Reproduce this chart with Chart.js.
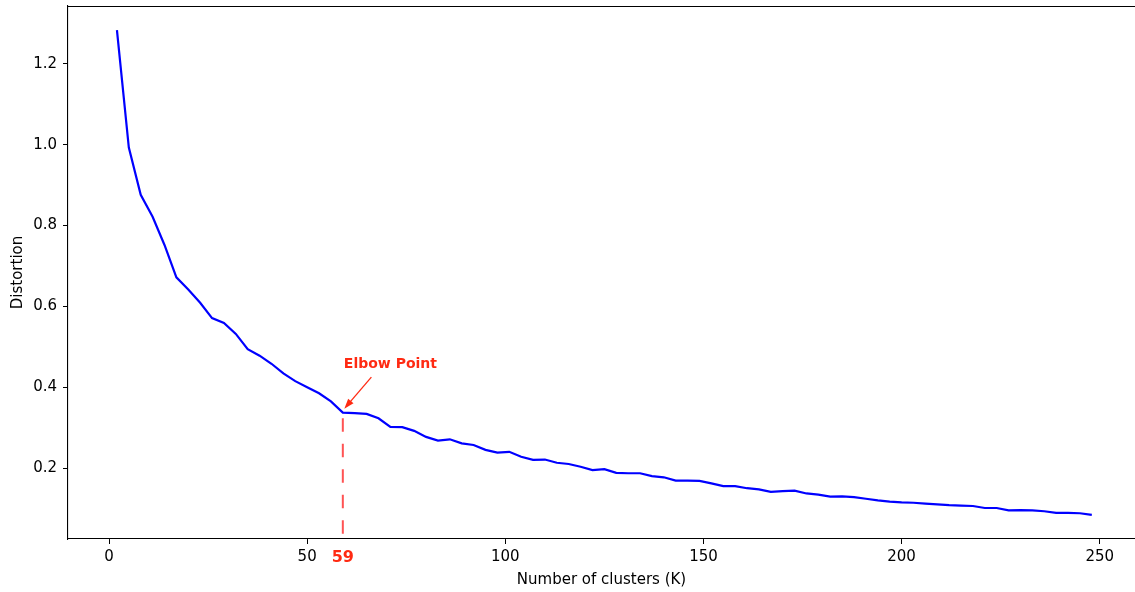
<!DOCTYPE html>
<html lang="fr">
<head>
<meta charset="utf-8">
<title>Méthode du coude</title>
<script src="https://cdn.jsdelivr.net/npm/chart.js@4/dist/chart.umd.min.js"></script>
<style>
  html, body { margin: 0; padding: 0; background: #fff; }
  #wrap { width: 1135px; height: 592px; }
</style>
</head>
<body>
<div id="wrap"><canvas id="elbowChart" width="1135" height="592"></canvas></div>
<script>
// Nombre de clusters testés
const kValues = [
  2, 5, 8, 11, 14, 17, 20, 23, 26, 29, 32, 35, 38, 41, 44, 47, 50, 53, 56, 59,
  62, 65, 68, 71, 74, 77, 80, 83, 86, 89, 92, 95, 98, 101, 104, 107, 110, 113, 116, 119,
  122, 125, 128, 131, 134, 137, 140, 143, 146, 149, 152, 155, 158, 161, 164, 167, 170, 173, 176, 179,
  182, 185, 188, 191, 194, 197, 200, 203, 206, 209, 212, 215, 218, 221, 224, 227, 230, 233, 236, 239,
  242, 245, 248
];

// Distorsion moyenne pour chaque K
const distortion = [
  1.284, 0.993, 0.876, 0.822, 0.752, 0.672, 0.642, 0.609, 0.571, 0.559, 0.532, 0.494, 0.478, 0.458, 0.434, 0.415, 0.400, 0.385, 0.365, 0.337,
  0.336, 0.334, 0.323, 0.302, 0.301, 0.292, 0.277, 0.268, 0.271, 0.261, 0.257, 0.245, 0.238, 0.240, 0.228, 0.220, 0.221, 0.213, 0.210, 0.203,
  0.195, 0.197, 0.188, 0.187, 0.187, 0.180, 0.177, 0.169, 0.169, 0.168, 0.162, 0.155, 0.155, 0.150, 0.147, 0.141, 0.143, 0.144, 0.137, 0.134,
  0.129, 0.130, 0.128, 0.124, 0.120, 0.117, 0.115, 0.114, 0.112, 0.110, 0.108, 0.107, 0.106, 0.101, 0.101, 0.095, 0.096, 0.095, 0.093, 0.089,
  0.089, 0.088, 0.084
];

// Graduations des axes
const xTicks = [0, 50, 100, 150, 200, 250];
const yTicks = [0.2, 0.4, 0.6, 0.8, 1.0, 1.2];

// Point du coude
const elbowK = 59;
const elbowLabel = "Elbow Point";

const FONT = "'DejaVu Sans', sans-serif";
const RED = "#ff2a12";

// Ligne pointillée, flèche et texte du coude
const elbowPlugin = {
  id: "elbow",
  afterDatasetsDraw(chart) {
    const ctx = chart.ctx;
    const xs = chart.scales.x;
    const ys = chart.scales.y;
    const area = chart.chartArea;
    const idx = kValues.indexOf(elbowK);
    const px = xs.getPixelForValue(elbowK);
    const py = ys.getPixelForValue(distortion[idx]);

    ctx.save();
    // pointillé vertical jusqu'à l'axe
    ctx.strokeStyle = "rgba(255, 40, 40, 0.8)";
    ctx.lineWidth = 2;
    ctx.setLineDash([13.5, 12]);
    ctx.lineDashOffset = 20;
    ctx.beginPath();
    ctx.moveTo(px, py);
    ctx.lineTo(px, area.bottom);
    ctx.stroke();
    ctx.setLineDash([]);

    // flèche
    const tx = xs.getPixelForValue(elbowK + 7.2);
    const ty = ys.getPixelForValue(0.425);
    const hx = px + 1.5;
    const hy = py - 4;
    const ang = Math.atan2(hy - ty, hx - tx);
    ctx.strokeStyle = RED;
    ctx.fillStyle = RED;
    ctx.lineWidth = 1.3;
    ctx.beginPath();
    ctx.moveTo(tx, ty);
    ctx.lineTo(hx - 8 * Math.cos(ang), hy - 8 * Math.sin(ang));
    ctx.stroke();
    ctx.beginPath();
    ctx.moveTo(hx, hy);
    ctx.lineTo(hx - 10 * Math.cos(ang) + 3.5 * Math.sin(ang), hy - 10 * Math.sin(ang) - 3.5 * Math.cos(ang));
    ctx.lineTo(hx - 10 * Math.cos(ang) - 3.5 * Math.sin(ang), hy - 10 * Math.sin(ang) + 3.5 * Math.cos(ang));
    ctx.closePath();
    ctx.fill();

    // texte
    ctx.font = "bold 14px " + FONT;
    ctx.textAlign = "left";
    ctx.textBaseline = "middle";
    ctx.fillText(elbowLabel, px + 1, ys.getPixelForValue(0.457));
    ctx.restore();
  },
  afterDraw(chart) {
    // bordure du haut
    const ctx = chart.ctx;
    const area = chart.chartArea;
    ctx.save();
    ctx.strokeStyle = "#000";
    ctx.lineWidth = 1.1;
    ctx.beginPath();
    ctx.moveTo(area.left, area.top + 0.5);
    ctx.lineTo(area.right, area.top + 0.5);
    ctx.stroke();
    ctx.restore();
  }
};

const ctx = document.getElementById("elbowChart").getContext("2d");
const elbowChart = new Chart(ctx, {
  type: "line",
  data: {
    datasets: [{
      label: "Distortion",
      data: kValues.map((k, i) => ({ x: k, y: distortion[i] })),
      borderColor: "#0000ff",
      borderWidth: 2.2,
      pointRadius: 0,
      tension: 0,
      fill: false
    }]
  },
  options: {
    responsive: false,
    animation: false,
    devicePixelRatio: 1,
    layout: { padding: { top: 6, left: 0, right: 0, bottom: 0 } },
    plugins: {
      legend: { display: false },
      tooltip: { enabled: false }
    },
    scales: {
      x: {
        type: "linear",
        min: -10.35,
        max: 258.9,
        afterFit: s => { s.height = 53; s.paddingLeft = 0; s.paddingRight = 0; },
        afterBuildTicks: s => {
          s.ticks = xTicks.concat([elbowK]).sort((a, b) => a - b).map(v => ({ value: v }));
        },
        border: { display: true, color: "#000", width: 1.1 },
        grid: {
          drawOnChartArea: false,
          drawTicks: true,
          tickLength: 5,
          tickWidth: 1,
          tickColor: c => (c.tick && c.tick.value === elbowK) ? "rgba(0,0,0,0)" : "#000"
        },
        ticks: {
          autoSkip: false,
          maxRotation: 0,
          padding: 4,
          color: c => (c.tick && c.tick.value === elbowK) ? RED : "#000",
          font: c => (c.tick && c.tick.value === elbowK)
            ? { family: FONT, size: 16, weight: "bold" }
            : { family: FONT, size: 15 },
          callback: v => String(v)
        },
        title: {
          display: true,
          text: "Number of clusters (K)",
          color: "#000",
          font: { family: FONT, size: 15 },
          padding: { top: 0, bottom: 3 }
        }
      },
      y: {
        type: "linear",
        min: 0.0243,
        max: 1.3435,
        afterFit: s => { s.width = 68; s.paddingTop = 0; s.paddingBottom = 0; },
        afterBuildTicks: s => {
          s.ticks = yTicks.map(v => ({ value: v }));
        },
        border: { display: true, color: "#000", width: 1.1 },
        grid: {
          drawOnChartArea: false,
          drawTicks: true,
          tickLength: 5,
          tickWidth: 1,
          tickColor: "#000"
        },
        ticks: {
          padding: 6,
          color: "#000",
          font: { family: FONT, size: 15 },
          callback: v => v.toFixed(1)
        },
        title: {
          display: true,
          text: "Distortion",
          color: "#000",
          font: { family: FONT, size: 15 },
          padding: { top: 9, bottom: 0 }
        }
      }
    }
  },
  plugins: [elbowPlugin]
});
</script>
</body>
</html>
